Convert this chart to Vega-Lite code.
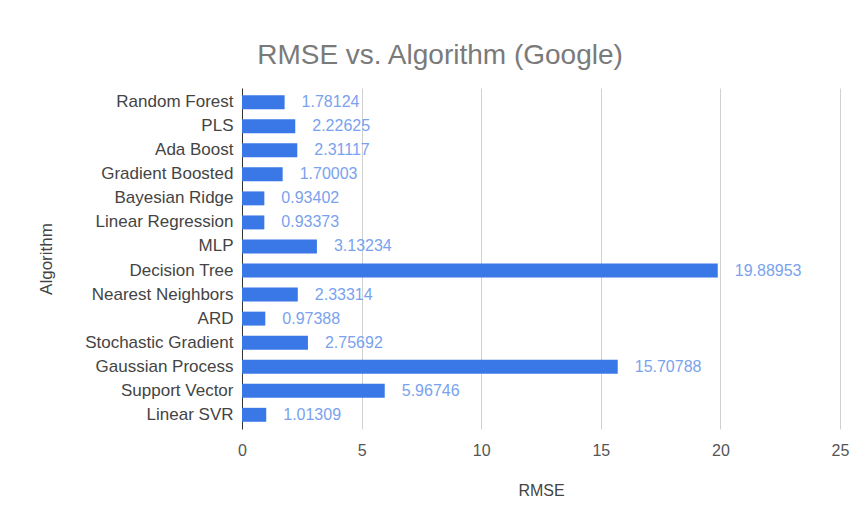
{
  "$schema": "https://vega.github.io/schema/vega-lite/v6.json",
  "autosize": {"type": "none"},
  "width": 598,
  "height": 341,
  "padding": {"left": 242, "top": 88, "right": 22, "bottom": 100},
  "background": "white",
  "title": {
    "text": "RMSE vs. Algorithm (Google)",
    "fontSize": 28,
    "font": "Liberation Sans",
    "fontWeight": "normal",
    "color": "#7a7a7a",
    "anchor": "middle",
    "dx": -101,
    "offset": 18
  },
  "data": {
    "values": [
      {"Algorithm": "Random Forest", "RMSE": 1.78124, "Label": "1.78124"},
      {"Algorithm": "PLS", "RMSE": 2.22625, "Label": "2.22625"},
      {"Algorithm": "Ada Boost", "RMSE": 2.31117, "Label": "2.31117"},
      {"Algorithm": "Gradient Boosted", "RMSE": 1.70003, "Label": "1.70003"},
      {"Algorithm": "Bayesian Ridge", "RMSE": 0.93402, "Label": "0.93402"},
      {"Algorithm": "Linear Regression", "RMSE": 0.93373, "Label": "0.93373"},
      {"Algorithm": "MLP", "RMSE": 3.13234, "Label": "3.13234"},
      {"Algorithm": "Decision Tree", "RMSE": 19.88953, "Label": "19.88953"},
      {"Algorithm": "Nearest Neighbors", "RMSE": 2.33314, "Label": "2.33314"},
      {"Algorithm": "ARD", "RMSE": 0.97388, "Label": "0.97388"},
      {"Algorithm": "Stochastic Gradient", "RMSE": 2.75692, "Label": "2.75692"},
      {"Algorithm": "Gaussian Process", "RMSE": 15.70788, "Label": "15.70788"},
      {"Algorithm": "Support Vector", "RMSE": 5.96746, "Label": "5.96746"},
      {"Algorithm": "Linear SVR", "RMSE": 1.01309, "Label": "1.01309"}
    ]
  },
  "encoding": {
    "y": {
      "field": "Algorithm",
      "type": "nominal",
      "sort": null,
      "scale": {"paddingInner": 0.42, "paddingOuter": 0.3},
      "axis": {
        "title": "Algorithm",
        "titleFont": "Liberation Sans",
        "titleFontSize": 17,
        "titleFontWeight": "normal",
        "titleColor": "#444444",
        "titlePadding": 29,
        "labelFont": "Liberation Sans",
        "labelFontSize": 17,
        "labelColor": "#444444",
        "labelPadding": 9,
        "ticks": false,
        "domainColor": "#333333",
        "domainWidth": 1
      }
    },
    "x": {
      "field": "RMSE",
      "type": "quantitative",
      "scale": {"domain": [0, 25], "nice": false},
      "axis": {
        "title": "RMSE",
        "titleFont": "Liberation Sans",
        "titleFontSize": 16,
        "titleFontWeight": "normal",
        "titleColor": "#444444",
        "titlePadding": 24,
        "labelFont": "Liberation Sans",
        "labelFontSize": 16,
        "labelColor": "#555555",
        "labelPadding": 13,
        "labelFlush": false,
        "values": [0, 5, 10, 15, 20, 25],
        "ticks": false,
        "domain": false,
        "grid": true,
        "gridColor": "#d0d0d0"
      }
    }
  },
  "layer": [
    {"mark": {"type": "bar", "color": "#3b78e7"}},
    {
      "mark": {
        "type": "text",
        "align": "left",
        "baseline": "middle",
        "dx": 17,
        "font": "Liberation Sans",
        "fontSize": 16,
        "color": "#7aa2ee"
      },
      "encoding": {"text": {"field": "Label", "type": "nominal"}}
    }
  ],
  "config": {"view": {"stroke": null}}
}
